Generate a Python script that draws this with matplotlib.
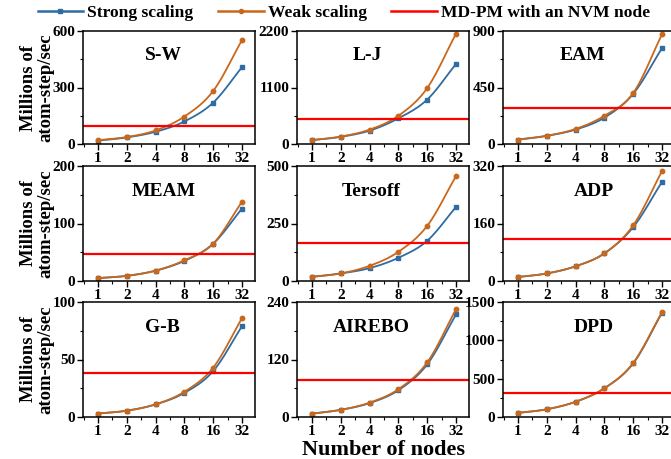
import numpy as np
import matplotlib.pyplot as plt
from matplotlib.ticker import AutoMinorLocator, MultipleLocator

plt.rcParams['font.family'] = ['Liberation Serif', 'DejaVu Serif']
plt.rcParams['font.weight'] = 'bold'

# データ
nodes = ['1', '2', '4', '8', '16', '32']
names = ['S-W', 'L-J', 'EAM', 'MEAM', 'Tersoff', 'ADP', 'G-B', 'AIREBO', 'DPD']

strong = [
    [18, 35, 65, 120, 220, 408],
    [75, 140, 260, 500, 866, 1559],
    [35, 65, 115, 210, 400, 764],
    [5, 9, 18, 35, 65, 126],
    [18, 33, 56, 101, 175, 322],
    [11, 21, 41, 77, 150, 276],
    [3, 5.5, 11, 21, 40, 79],
    [7, 15, 29, 56, 110, 214],
    [53, 101, 199, 375, 700, 1360],
]
weak = [
    [20, 37, 72, 146, 282, 552],
    [75, 145, 280, 550, 1090, 2148],
    [35, 66, 120, 225, 406, 874],
    [5, 9, 18, 36, 65, 138],
    [18, 33, 66, 127, 240, 456],
    [11, 21, 41, 77, 155, 306],
    [3, 5.5, 11, 22, 43, 86],
    [7, 15, 30, 58, 114, 225],
    [53, 101, 199, 375, 706, 1368],
]
mdpm = [98, 481, 286, 47, 164, 116, 38, 77, 309]
ymax = [600, 2200, 900, 200, 500, 320, 100, 240, 1500]
ystep = [300, 1100, 450, 100, 250, 160, 50, 120, 500]
title_x = [0.47, 0.41, 0.46, 0.47, 0.43, 0.53, 0.46, 0.43, 0.53]

c_strong = '#2f6ca3'
c_weak = '#c8681c'


def smooth(y, n=20):
    """Catmull-Rom曲線で点の間をなめらかにつなぐ"""
    y = np.asarray(y, dtype=float)
    p = np.concatenate([[2 * y[0] - y[1]], y, [2 * y[-1] - y[-2]]])
    xs, ys = [], []
    for i in range(len(y) - 1):
        t = np.linspace(0, 1, n, endpoint=False)
        p0, p1, p2, p3 = p[i], p[i + 1], p[i + 2], p[i + 3]
        seg = 0.5 * (2 * p1 + (-p0 + p2) * t + (2 * p0 - 5 * p1 + 4 * p2 - p3) * t ** 2
                     + (-p0 + 3 * p1 - 3 * p2 + p3) * t ** 3)
        xs.append(i + t)
        ys.append(seg)
    xs.append([len(y) - 1])
    ys.append([y[-1]])
    return np.concatenate(xs), np.concatenate(ys)


W, H = 671, 459
fig = plt.figure(figsize=(W / 100, H / 100), dpi=100)

lefts = [83, 297, 503]
rows = [(31, 144), (166, 281), (302, 417)]
x = np.arange(len(nodes))

for k in range(9):
    r, c = divmod(k, 3)
    top, bot = rows[r]
    ax = fig.add_axes([lefts[c] / W, 1 - bot / H, 172 / W, (bot - top) / H])

    sx, sy = smooth(strong[k])
    ax.plot(sx, sy, color=c_strong, lw=1.3)
    ax.plot(x, strong[k], 's', color=c_strong, ms=3)
    wx, wy = smooth(weak[k])
    ax.plot(wx, wy, color=c_weak, lw=1.3)
    ax.plot(x, weak[k], 'o', color=c_weak, ms=3.2)
    ax.axhline(mdpm[k], color='#ff0000', lw=1.6)

    ax.set_xlim(-0.52, 5.45)
    ax.set_ylim(0, ymax[k])
    ax.set_xticks(x)
    ax.set_xticklabels(nodes)
    ax.xaxis.set_minor_locator(MultipleLocator(0.5))
    ax.yaxis.set_major_locator(MultipleLocator(ystep[k]))
    ax.yaxis.set_minor_locator(AutoMinorLocator(2))
    ax.tick_params(which='major', direction='out', length=4, width=1.0,
                   labelsize=11, pad=1.5)
    ax.tick_params(which='minor', direction='out', length=2.5, width=0.8)
    for lab in ax.get_xticklabels() + ax.get_yticklabels():
        lab.set_fontweight('bold')
    for sp in ax.spines.values():
        sp.set_linewidth(1.1)

    ax.text(title_x[k], 0.78, names[k], transform=ax.transAxes,
            ha='center', va='center', fontsize=14, fontweight='bold')

    if k == 0:
        h1, = ax.plot([], [], color=c_strong, lw=1.8, marker='s', ms=3)
        h2, = ax.plot([], [], color=c_weak, lw=1.8, marker='o', ms=3)
        h3, = ax.plot([], [], color='#ff0000', lw=1.8)

for r in range(3):
    top, bot = rows[r]
    fig.text(37 / W, 1 - (top + bot) / 2 / H, 'Millions of\natom-step/sec',
             rotation=90, ha='center', va='center', fontsize=13.5,
             fontweight='bold', linespacing=1.05)

fig.text(384 / W, 1 - 450 / H, 'Number of nodes', ha='center', va='center',
         fontsize=16, fontweight='bold')

fig.legend([h1, h2, h3], ['Strong scaling', 'Weak scaling', 'MD-PM with an NVM node'],
           loc='center', bbox_to_anchor=(344 / W, 1 - 13 / H), ncol=3, frameon=False,
           handlelength=2.6, columnspacing=1.4, handletextpad=0.25,
           prop={'weight': 'bold', 'size': 12.6})

fig.savefig('out.png', dpi=100)
